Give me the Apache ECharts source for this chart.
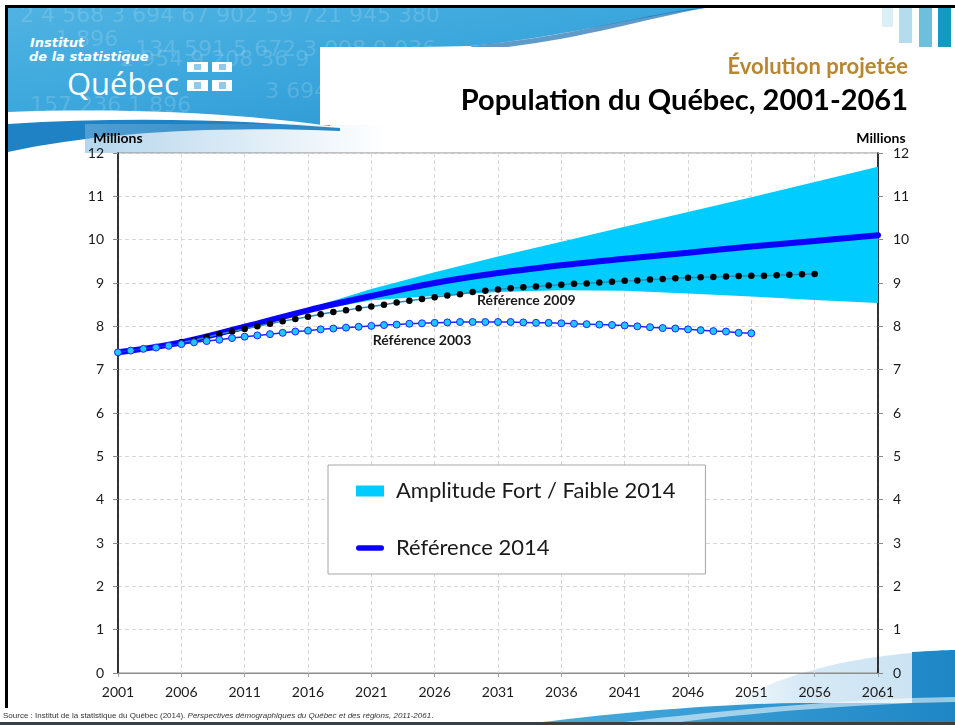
<!DOCTYPE html>
<html>
<head>
<meta charset="utf-8">
<script src="https://cdn.jsdelivr.net/npm/echarts@6/dist/echarts.min.js"></script>
<style>
  html, body { margin: 0; padding: 0; background: #fff; }
  #slide { position: relative; width: 955px; height: 725px; overflow: hidden; }
  #deco { position: absolute; left: 0; top: 0; }
  #chart { position: absolute; left: 0; top: 0; width: 955px; height: 725px; }
  .num { fill: rgba(255,255,255,0.16); font: 22px "DejaVu Sans", sans-serif; }
  .logo { fill: #fff; font: italic bold 13px "DejaVu Sans", sans-serif; }
  .src { position: absolute; left: 3px; top: 711px; font: 8px "Liberation Sans", Arial, sans-serif; color: #333; white-space: nowrap; }
</style>
</head>
<body>
<div id="slide">
  <svg id="deco" width="955" height="725" viewBox="0 0 955 725">
    <defs>
      <linearGradient id="banner" x1="0" y1="0" x2="1" y2="1">
        <stop offset="0" stop-color="#4fb3e2"/>
        <stop offset="0.5" stop-color="#3aa6dc"/>
        <stop offset="1" stop-color="#2a90cf"/>
      </linearGradient>
      <linearGradient id="dots" x1="0" y1="0" x2="1" y2="0">
        <stop offset="0" stop-color="rgb(120,180,220)" stop-opacity="0.55"/>
        <stop offset="1" stop-color="rgb(120,180,220)" stop-opacity="0"/>
      </linearGradient>
      <linearGradient id="dotsBottom" x1="0" y1="0" x2="1" y2="0">
        <stop offset="0" stop-color="rgb(175,212,236)" stop-opacity="0.1"/>
        <stop offset="0.4" stop-color="rgb(175,212,236)" stop-opacity="0.5"/>
        <stop offset="1" stop-color="rgb(175,212,236)" stop-opacity="0.65"/>
      </linearGradient>
      <linearGradient id="bottom" x1="0" y1="0" x2="1" y2="0">
        <stop offset="0" stop-color="#4aaedf"/>
        <stop offset="1" stop-color="#1f86c6"/>
      </linearGradient>
    </defs>
    <path d="M8,8 L705,8 C640,16 560,38 470,46 L330,49 L330,126 C230,112 120,108 8,112 Z" fill="url(#banner)"/>
    <path d="M470,46 C560,38 620,20 690,9 L705,8 C640,20 570,42 480,50 Z" fill="#1d6fb0" opacity="0.7"/>
    <path d="M8,124 C120,117 230,119 340,128 L340,131 C220,126 100,132 8,152 Z" fill="#1f82c4"/>
    <rect x="85" y="124" width="300" height="29" fill="url(#dots)"/>
    <text class="num" x="20" y="22">2   4 568    3 694    67 902    59 721    945 380</text>
    <text class="num" x="55" y="46">1 896</text>
    <text class="num" x="135" y="56">134    591    5 672    3 098    9 036</text>
    <text class="num" x="120" y="66">2 954    9 208    36 9</text>
    <text class="num" x="265" y="98">3 694</text>
    <text class="num" x="30" y="112">157    236    1 896</text>
    <text class="logo" x="30" y="47">Institut</text>
    <text class="logo" x="29" y="61">de la statistique</text>
    <text x="67" y="95" fill="#fff" style="font: 31px 'Open Sans', sans-serif;">Québec</text>
    <rect x="187" y="62" width="21" height="10" fill="#fff"/>
    <rect x="212" y="62" width="20" height="10" fill="#fff"/>
    <rect x="187" y="80" width="21" height="11" fill="#fff"/>
    <rect x="212" y="80" width="20" height="11" fill="#fff"/>
    <rect x="194" y="64" width="7" height="6" fill="#8fcbe8"/>
    <rect x="219" y="64" width="7" height="6" fill="#8fcbe8"/>
    <rect x="194" y="82" width="7" height="7" fill="#8fcbe8"/>
    <rect x="219" y="82" width="7" height="7" fill="#8fcbe8"/>
    <rect x="882" y="8" width="11" height="19" fill="#dbeff7"/>
    <rect x="899" y="8" width="13" height="35" fill="#b5dcec"/>
    <rect x="919" y="8" width="13" height="60" fill="#6cc0dc"/>
    <rect x="938" y="8" width="13" height="50" fill="#1399c2"/>
    <rect x="320" y="47" width="635" height="78" fill="#fff"/>
    <path d="M727,705 C770,680 830,660 912,653 L912,705 Z" fill="url(#dotsBottom)"/>
    <path d="M520,725 C620,712 720,704 800,703 L912,703 L912,652 C930,651 945,650 955,650 L955,725 Z" fill="url(#bottom)"/>
    <path d="M600,725 C700,712 820,702 912,698 L955,697 L955,702 L912,703 C820,707 720,716 660,725 Z" fill="#fff" opacity="0.55"/>
    <rect x="5" y="5" width="950" height="3" fill="#000"/>
    <rect x="5" y="5" width="3" height="703" fill="#000"/>
    <rect x="0" y="722" width="955" height="3" fill="#3a3f44"/>
  </svg>
  <div id="chart"></div>
  <div class="src">Source : Institut de la statistique du Québec (2014). <i>Perspectives démographiques du Québec et des régions, 2011-2061</i>.</div>
</div>
<script>
// x values are stored as offsets from this year so the axis min stays a multiple of the interval
const START_YEAR = 2001;

// Référence 2014 (5-year points)
const ref2014Years = [2001, 2006, 2011, 2016, 2021, 2026, 2031, 2036, 2041, 2046, 2051, 2056, 2061];
const ref2014Values = [7.40, 7.63, 7.99, 8.37, 8.70, 9.00, 9.23, 9.41, 9.56, 9.70, 9.84, 9.97, 10.10];

// Amplitude Fort / Faible 2014
const bandYears = [2011, 2016, 2021, 2026, 2031, 2036, 2041, 2046, 2051, 2056, 2061];
const bandLow = [7.99, 8.33, 8.60, 8.70, 8.79, 8.83, 8.82, 8.76, 8.69, 8.61, 8.54];
const bandHigh = [7.99, 8.41, 8.86, 9.25, 9.61, 9.95, 10.30, 10.64, 10.98, 11.33, 11.68];

// Référence 2009 (annual, 2006-2056)
const ref2009Start = 2006;
const ref2009Values = [
  7.63, 7.68, 7.75, 7.82, 7.88, 7.94, 8.00, 8.06, 8.12, 8.17,
  8.22, 8.28, 8.33, 8.37, 8.42, 8.46, 8.50, 8.55, 8.59, 8.63,
  8.67, 8.71, 8.74, 8.79, 8.82, 8.85, 8.88, 8.90, 8.92, 8.94,
  8.96, 8.98, 8.99, 9.01, 9.03, 9.05, 9.06, 9.08, 9.09, 9.11,
  9.12, 9.13, 9.14, 9.15, 9.16, 9.17, 9.17, 9.18, 9.19, 9.20,
  9.21
];

// Référence 2003 (annual, 2001-2051)
const ref2003Start = 2001;
const ref2003Values = [
  7.40, 7.44, 7.48, 7.51, 7.55, 7.59, 7.63, 7.66, 7.69, 7.73,
  7.76, 7.79, 7.82, 7.85, 7.88, 7.90, 7.93, 7.95, 7.97, 7.99,
  8.01, 8.03, 8.04, 8.06, 8.07, 8.08, 8.09, 8.10, 8.10, 8.10,
  8.10, 8.10, 8.09, 8.08, 8.08, 8.07, 8.06, 8.05, 8.04, 8.03,
  8.02, 8.00, 7.98, 7.96, 7.95, 7.93, 7.91, 7.89, 7.88, 7.85,
  7.84
];

const LABEL_2009_YEAR = 2033;
const LABEL_2003_YEAR = 2025;

const FONT = 'Lato, "Open Sans", sans-serif';

const chart = echarts.init(document.getElementById('chart'));

const pairs = (years, vals) => years.map((y, i) => [y - START_YEAR, vals[i]]);

const ref2009Data = ref2009Values.map((v, i) => {
  const year = ref2009Start + i;
  const item = { value: [year - START_YEAR, v] };
  if (year === LABEL_2009_YEAR) {
    item.label = {
      show: true, position: 'bottom', distance: 3, offset: [3, 0],
      formatter: 'Référence 2009', fontFamily: FONT, fontWeight: 'bold',
      fontSize: 14, color: '#1a1a1a'
    };
  }
  return item;
});

const ref2003Data = ref2003Values.map((v, i) => {
  const year = ref2003Start + i;
  const item = { value: [year - START_YEAR, v] };
  if (year === LABEL_2003_YEAR) {
    item.label = {
      show: true, position: 'bottom', distance: 6,
      formatter: 'Référence 2003', fontFamily: FONT, fontWeight: 'bold',
      fontSize: 14, color: '#1a1a1a'
    };
  }
  return item;
});

// band polygon: upper edge left->right, lower edge right->left
function renderBand(params, api) {
  if (params.dataIndex !== 0) return;
  const pts = [];
  for (let i = 0; i < bandYears.length; i++) {
    pts.push(api.coord([bandYears[i] - START_YEAR, bandHigh[i]]));
  }
  for (let i = bandYears.length - 1; i >= 0; i--) {
    pts.push(api.coord([bandYears[i] - START_YEAR, bandLow[i]]));
  }
  return {
    type: 'polygon',
    shape: { points: pts },
    style: { fill: '#00ccff' },
    silent: true
  };
}

const yAxisBase = {
  type: 'value', min: 0, max: 12, interval: 1,
  name: 'Millions', nameLocation: 'end', nameGap: 8,
  axisLine: { show: true, lineStyle: { color: '#000', width: 1.5 } },
  axisTick: { show: true, length: 5, lineStyle: { color: '#888' } },
  axisLabel: { color: '#1a1a1a', fontFamily: FONT, fontSize: 14 }
};

const option = {
  animation: false,
  backgroundColor: 'transparent',
  textStyle: { fontFamily: FONT },
  title: [
    {
      text: 'Évolution projetée', right: 47, top: 56, padding: 0,
      textStyle: { color: '#b8862e', fontFamily: FONT, fontWeight: 'bold', fontSize: 22 }
    },
    {
      text: 'Population du Québec, 2001-2061', right: 47, top: 86, padding: 0,
      textStyle: { color: '#000', fontFamily: FONT, fontWeight: 'bold', fontSize: 29 }
    }
  ],
  grid: {
    left: 118, right: 77, top: 153, bottom: 52,
    show: true, borderColor: '#8c8c8c', borderWidth: 1, backgroundColor: 'transparent'
  },
  legend: {
    left: 328, top: 465,
    orient: 'vertical',
    backgroundColor: '#fff',
    borderColor: '#a6a6a6', borderWidth: 1,
    padding: [14, 30, 14, 28],
    itemGap: 33,
    itemWidth: 28, itemHeight: 11,
    selectedMode: false,
    textStyle: { fontFamily: FONT, fontSize: 22, color: '#1a1a1a', lineHeight: 24, padding: [0, 0, 0, 7] },
    data: [
      { name: 'Amplitude Fort / Faible 2014', icon: 'rect', itemStyle: { color: '#00ccff', borderWidth: 0 } },
      {
        name: 'Référence 2014',
        icon: 'path://M3,0 L27,0 A3,3 0 0 1 27,6 L3,6 A3,3 0 0 1 3,0 Z',
        itemStyle: { color: '#0a00ff', borderWidth: 0 }
      }
    ]
  },
  xAxis: {
    type: 'value', min: 0, max: 60, interval: 5,
    axisLine: { show: true, onZero: false, lineStyle: { color: '#8c8c8c' } },
    axisTick: { show: true, length: 4, lineStyle: { color: '#a0a0a0' } },
    axisLabel: {
      color: '#1a1a1a', fontFamily: FONT, fontSize: 14, margin: 12,
      formatter: v => String(v + START_YEAR)
    },
    splitLine: { show: true, lineStyle: { color: '#d6d6d6', type: [4, 3] } }
  },
  yAxis: [
    Object.assign({}, yAxisBase, {
      position: 'left',
      nameTextStyle: { color: '#000', fontFamily: FONT, fontWeight: 'bold', fontSize: 14, align: 'center' },
      axisLabel: Object.assign({}, yAxisBase.axisLabel, { margin: 14 }),
      splitLine: { show: true, lineStyle: { color: '#d6d6d6', type: [4, 3] } }
    }),
    Object.assign({}, yAxisBase, {
      position: 'right',
      nameTextStyle: { color: '#000', fontFamily: FONT, fontWeight: 'bold', fontSize: 14, align: 'center', padding: [0, 0, 0, 6] },
      axisLabel: Object.assign({}, yAxisBase.axisLabel, { margin: 15 }),
      splitLine: { show: false }
    })
  ],
  series: [
    {
      name: 'Amplitude Fort / Faible 2014', type: 'custom', silent: true,
      data: bandYears.map((y, i) => [y - START_YEAR, bandLow[i], bandHigh[i]]),
      encode: { x: 0, y: [1, 2] },
      color: '#00ccff',
      renderItem: renderBand,
      z: 1
    },
    {
      name: 'Référence 2014', type: 'line', silent: true,
      data: pairs(ref2014Years, ref2014Values),
      symbol: 'none', smooth: 0.35,
      color: '#0a00ff',
      lineStyle: { color: '#0a00ff', width: 6, cap: 'round' },
      z: 2
    },
    {
      name: 'Référence 2009', type: 'line', silent: true,
      data: ref2009Data,
      symbol: 'circle', symbolSize: 6.5, showAllSymbol: true,
      lineStyle: { color: '#2a8db5', width: 1.5 },
      itemStyle: { color: '#000', borderWidth: 0 },
      z: 3
    },
    {
      name: 'Référence 2003', type: 'line', silent: true,
      data: ref2003Data,
      symbol: 'circle', symbolSize: 7, showAllSymbol: true,
      lineStyle: { color: '#2323ff', width: 1.5 },
      itemStyle: { color: '#1ec8ff', borderColor: '#2323ff', borderWidth: 1 },
      z: 4
    }
  ]
};

chart.setOption(option);
</script>
</body>
</html>
